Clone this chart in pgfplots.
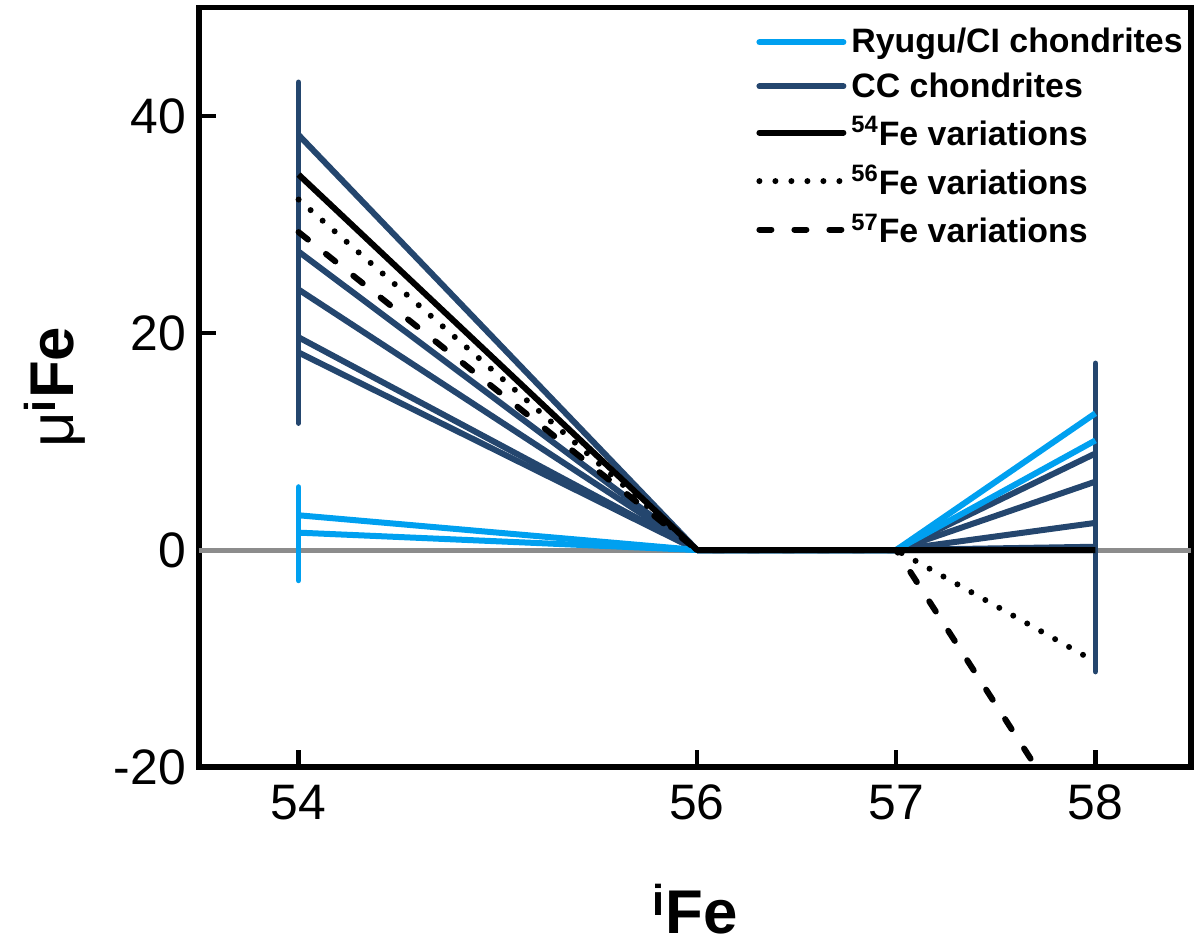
\documentclass[border=0pt]{standalone}
\usepackage{fontspec}
\setmainfont{Liberation Sans}
\usepackage{pgfplots}
\pgfplotsset{compat=1.18}
\definecolor{ryugu}{RGB}{0,160,240}
\definecolor{ccblue}{RGB}{36,70,110}
\definecolor{zerogray}{RGB}{140,140,140}
\begin{document}
\begin{tikzpicture}
\useasboundingbox (0,0) rectangle (598bp,472.5bp);
\begin{axis}[
  at={(99.5bp,89bp)}, anchor=south west,
  scale only axis, width=496bp, height=379.75bp,
  xmin=53.5, xmax=58.48, ymin=-20, ymax=50,
  xtick={54,56,57,58}, ytick={-20,0,20,40},
  tick pos=left, tick align=inside,
  major tick length=8.5bp,
  every tick/.style={black, line width=2.2bp},
  axis line style={line width=2.8bp},
  /pgf/number format/assume math mode=true,
  ticklabel style={font=\fontsize{25}{30}\selectfont},
  xticklabel style={yshift=-5.5bp},
  yticklabel style={xshift=-3bp},
  xlabel={\textsuperscript{i}Fe},
  ylabel={{\mdseries μ}\textsuperscript{i}Fe},
  xlabel style={at={(axis description cs:0.5,-0.219)}, anchor=base, font=\fontsize{31}{36}\selectfont\bfseries},
  ylabel style={at={(axis description cs:-0.127,0.5)}, anchor=base, font=\fontsize{31}{36}\selectfont\bfseries},
  legend style={at={(axis description cs:0.5615,0.973)}, anchor=north west, draw=none, fill=none, inner sep=0pt,
    font=\fontsize{17}{20}\selectfont\bfseries, row sep=8.3bp, column sep=2.5bp,
    nodes={inner xsep=0pt, inner ysep=0pt}},
  legend cell align=left,
  legend image code/.code={\draw[#1] (0bp,0bp) -- (42bp,0bp);},
  every axis plot/.append style={line join=round},
]
% legend
\addlegendimage{ryugu, line width=3bp, line cap=round}
\addlegendentry{Ryugu/CI chondrites}
\addlegendimage{ccblue, line width=3bp, line cap=round}
\addlegendentry{CC chondrites}
\addlegendimage{black, line width=3bp, line cap=round}
\addlegendentry{\textsuperscript{54}Fe variations}
\addlegendimage{black, line width=3bp, line cap=round, dash pattern=on 0bp off 8bp}
\addlegendentry{\textsuperscript{56}Fe variations}
\addlegendimage{black, line width=3bp, line cap=round, dash pattern=on 6bp off 11.5bp}
\addlegendentry{\textsuperscript{57}Fe variations}
% zero line
\addplot[forget plot, zerogray, line width=2.5bp] coordinates {(53.5,0) (58.48,0)};
% error bars
\addplot[forget plot, ccblue, line width=2.85bp, line cap=round] coordinates {(54,11.7) (54,43.1)};
\addplot[forget plot, ryugu, line width=2.85bp, line cap=round] coordinates {(54,-2.8) (54,5.8)};
\addplot[forget plot, ccblue, line width=2.85bp, line cap=round] coordinates {(58,-11.2) (58,17.2)};
% CC chondrites
\addplot[forget plot, ccblue, line width=3bp] coordinates {(54,38.25) (56,0) (57,0) (58,8.9)};
\addplot[forget plot, ccblue, line width=3bp] coordinates {(54,27.5) (56,0) (57,0) (58,6.3)};
\addplot[forget plot, ccblue, line width=3bp] coordinates {(54,24.0) (56,0) (57,0) (58,2.5)};
\addplot[forget plot, ccblue, line width=3bp] coordinates {(54,19.6) (56,0) (57,0) (58,0.3)};
\addplot[forget plot, ccblue, line width=3bp] coordinates {(54,18.2) (56,0) (57,0) (58,0)};
% Ryugu / CI
\addplot[forget plot, ryugu, line width=3bp] coordinates {(54,3.2) (56,0) (57,0) (58,12.6)};
\addplot[forget plot, ryugu, line width=3bp] coordinates {(54,1.6) (56,0) (57,0) (58,10.1)};
% isotope variations
\addplot[forget plot, black, line width=3bp] coordinates {(54,34.6) (56,0) (57,0) (58,0)};
\addplot[forget plot, black, line width=3bp, line cap=round, dash pattern=on 0bp off 8bp] coordinates {(54,32.3) (56,0) (57,0) (58,-10.3)};
\addplot[forget plot, black, line width=3bp, line cap=round, dash pattern=on 6bp off 11.5bp] coordinates {(54,29.3) (56,0) (57,0) (58,-28.5)};
\end{axis}
\end{tikzpicture}
\end{document}
